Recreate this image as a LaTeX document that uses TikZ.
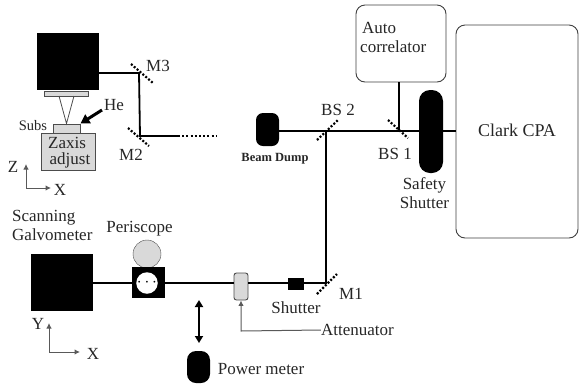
\documentclass[tikz,border=0pt]{standalone}
\usepackage{fontspec}
\setmainfont{Liberation Serif}
\usetikzlibrary{arrows.meta, positioning}

\begin{document}
\begin{tikzpicture}[x=1pt, y=-1pt,
    lbl/.style={inner sep=0pt, text=black!85, font=\fontsize{17}{19}\selectfont},
    blackbox/.style={fill=black, inner sep=0pt},
    greybox/.style={draw=black!70, fill=black!15, inner sep=0pt, line width=0.9pt},
    roundbox/.style={draw=black!75, fill=white, inner sep=0pt, line width=0.9pt, rounded corners=9pt},
    beam/.style={line width=1.8pt},
    mirror/.style={line width=2.2pt, dash pattern=on 2pt off 1.8pt},
    pointer/.style={draw=black!65, line width=1pt, -{Latex[length=5.5pt, width=5.5pt]}}]
    \useasboundingbox (0,0) rectangle (579,384);

    % Chamber side
    \node (chamber) [blackbox, minimum width=62pt, minimum height=57pt] at (68,61.5) {};
    \node (plate) [greybox, minimum width=44pt, minimum height=5pt] at (66,93.5) {};
    \node (subs) [greybox, minimum width=27pt, minimum height=9pt] at (66.5,128.5) {};
    \node (zstage) [greybox, minimum width=54pt, minimum height=37pt] at (68,151.5) {};
    \node (zaxis) [lbl] at (67,143) {Zaxis};
    \node (adjust) [lbl] at (70,160) {adjust};
    \node (subslbl) [lbl, font=\fontsize{14.5}{16}\selectfont] at (33,126) {Subs};
    \node (he) [lbl] at (114,105) {He};
    \coordinate (conel) at (59,96);
    \coordinate (coner) at (74,96);
    \coordinate (hestart) at (102,110);
    \coordinate (m3) at (139,73);
    \coordinate (m2) at (140,136);
    \coordinate (solid) at (178,136);
    \coordinate (dotend) at (217,136);
    \node (m3lbl) [lbl] at (158,66) {M3};
    \node (m2lbl) [lbl] at (131,155) {M2};

    % Axes, upper
    \coordinate (zo) at (26,188);
    \coordinate (zz) at (26,164);
    \coordinate (zx) at (51,188);
    \node (zlbl) [lbl] at (13,167) {Z};
    \node (zxlbl) [lbl] at (60,190) {X};

    % Scanning side
    \node (galvo) [blackbox, minimum width=62pt, minimum height=57pt] at (62,282.5) {};
    \node (galvolbl) [lbl, align=left, anchor=north west] at (12,210) {Scanning\\Galvometer};
    \node (ball) [circle, draw=black!70, fill=black!15, inner sep=0pt, minimum size=28pt] at (147,254) {};
    \node (peri) [blackbox, minimum width=33pt, minimum height=31pt] at (148.5,282.5) {};
    \node (hole) [circle, fill=white, inner sep=0pt, minimum size=20pt, font=\fontsize{18}{18}\selectfont] at (147,283) {$\cdots$};
    \node (perilbl) [lbl] at (139.5,229) {Periscope};
    \node (atten) [greybox, rounded corners=2.5pt, minimum width=14pt, minimum height=27pt] at (241,286.5) {};
    \node (shut) [blackbox, minimum width=16pt, minimum height=12pt] at (296,284) {};
    \node (shutlbl) [lbl] at (296,308) {Shutter};
    \coordinate (m1) at (326,283);
    \node (m1lbl) [lbl] at (351,294) {M1};
    \node (attenlbl) [lbl] at (357.5,330) {Attenuator};
    \coordinate (attencorner) at (241,331);
    \node (meter) [blackbox, rounded corners=9pt, minimum width=23pt, minimum height=32pt] at (198.5,367) {};
    \node (meterlbl) [lbl] at (261,369) {Power meter};
    \coordinate (slidetop) at (199,300);
    \coordinate (slidebot) at (199,343);

    % Axes, lower
    \coordinate (yo) at (49,352);
    \coordinate (yy) at (49,323);
    \coordinate (yx) at (80,352);
    \node (ylbl) [lbl] at (38,324) {Y};
    \node (yxlbl) [lbl] at (93,354) {X};

    % Laser side
    \node (cpa) [roundbox, minimum width=122pt, minimum height=213pt] at (517,131.5) {};
    \node (cpalbl) [lbl, font=\fontsize{18}{20}\selectfont] at (517,130) {Clark CPA};
    \node (auto) [roundbox, minimum width=90pt, minimum height=77pt] at (401,43.5) {};
    \node (autolbl) [lbl, align=left, anchor=north west] at (360,22) {\hspace{2pt}Auto\\correlator};
    \node (safety) [blackbox, rounded corners=11pt, minimum width=24pt, minimum height=83pt] at (431,131.5) {};
    \node (safelbl) [lbl, align=center] at (424.5,193) {Safety\\Shutter};
    \node (dump) [blackbox, rounded corners=7pt, minimum width=23pt, minimum height=33pt] at (267.5,129.5) {};
    \node (dumplbl) [lbl, font=\bfseries\fontsize{12.5}{14}\selectfont] at (275,159) {Beam Dump};
    \coordinate (bs1) at (399,131);
    \coordinate (bs2) at (326,131);
    \node (bs1lbl) [lbl] at (395,154) {BS 1};
    \node (bs2lbl) [lbl] at (338,110) {BS 2};

    % Connections
    \draw[beam] (chamber.east |- m3) -- (m3) -- (m2) -- (solid);
    \draw[beam, dash pattern=on 2pt off 2.2pt] (solid) -- (dotend);
    \draw[beam] (galvo.east |- m1) -- (peri.west |- m1);
    \draw[beam] (peri.east |- m1) -- (atten.west |- m1);
    \draw[beam] (atten.east |- m1) -- (shut.west |- m1);
    \draw[beam] (shut.east |- m1) -- (m1) -- (bs2);
    \draw[beam] (dump.east |- bs2) -- (bs2) -- (bs1) -- (safety.west |- bs1);
    \draw[beam] (safety.east |- bs1) -- (cpa.west |- bs1);
    \draw[beam] (auto.south -| bs1) -- (bs1);
    \draw[black!70, line width=0.8pt] (conel) -- (subs.north) -- (coner);
    \draw[line width=3pt, -{Triangle[length=9pt, width=10pt]}] (hestart) -- (subs.north east);
    \draw[line width=1.8pt, {Triangle[length=7pt, width=8pt]}-{Triangle[length=7pt, width=8pt]}] (slidetop) -- (slidebot);
    \draw[pointer] (attenlbl.west) -- (attencorner) -- (atten.south);
    \draw[pointer] (zo) -- (zz);
    \draw[pointer] (zo) -- (zx);
    \draw[pointer] (yo) -- (yy);
    \draw[pointer] (yo) -- (yx);

    % Mirrors
    \draw[mirror] (m3) ++(-8,-9) -- ++(22,19);
    \draw[mirror] (m2) ++(-12,-8) -- ++(21,18);
    \draw[mirror] (m1) ++(-9,11) -- ++(20,-20);
    \draw[mirror] (bs1) ++(-11,-11) -- ++(20,18);
    \draw[mirror] (bs2) ++(-9,9) -- ++(21,-20);
\end{tikzpicture}
\end{document}
